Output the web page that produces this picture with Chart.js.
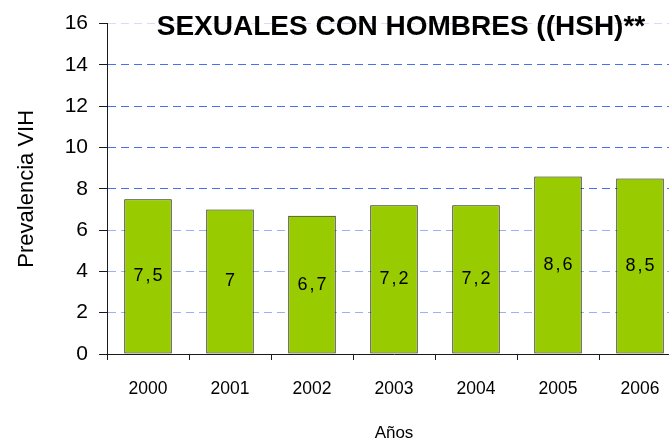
<!DOCTYPE html>
<html>
<head>
<meta charset="utf-8">
<script src="https://cdn.jsdelivr.net/npm/chart.js@4/dist/chart.umd.min.js"></script>
<style>
  html, body { margin: 0; padding: 0; background: #fff; overflow: hidden; width: 669px; height: 441px; }
  #wrap { position: relative; width: 700px; height: 441px; }
</style>
</head>
<body>
<div id="wrap"><canvas id="c" width="700" height="441"></canvas></div>
<script>
const categories = ['2000', '2001', '2002', '2003', '2004', '2005', '2006'];
const prevalence = [7.5, 7, 6.7, 7.2, 7.2, 8.6, 8.5];
const titleText = 'SEXUALES CON HOMBRES ((HSH)**';
const yTitle = 'Prevalencia VIH';
const xTitle = 'Años';

const titlePlugin = {
  id: 'titleDraw',
  afterDraw(chart) {
    const ctx = chart.ctx;
    ctx.save();
    ctx.font = 'bold 28px "Liberation Sans", Arial, sans-serif';
    ctx.fillStyle = '#000';
    ctx.textAlign = 'center';
    ctx.textBaseline = 'alphabetic';
    ctx.fillText(titleText, 401, 35);
    ctx.restore();
  }
};

const labelPlugin = {
  id: 'barLabels',
  afterDatasetsDraw(chart) {
    const ctx = chart.ctx;
    const meta = chart.getDatasetMeta(0);
    ctx.save();
    ctx.font = '18px "Liberation Sans", Arial, sans-serif';
    ctx.fillStyle = '#000';
    ctx.textAlign = 'center';
    ctx.textBaseline = 'middle';
    const sp = 2;
    try { ctx.letterSpacing = sp + 'px'; } catch (e) {}
    meta.data.forEach((el, i) => {
      const p = el.getProps(['x', 'y', 'base'], true);
      const txt = String(prevalence[i]).replace('.', ',');
      ctx.fillText(txt, p.x + sp / 2, (p.y + p.base) / 2);
    });
    ctx.restore();
  }
};

function gridColor(ctx) {
  const v = ctx.tick ? ctx.tick.value : null;
  if (v === 0) return 'rgba(0,0,0,0)';
  if (v === 16) return '#d6ddf9';
  if (v === 2 || v === 4 || v === 6) return '#9cb0f8';
  return '#4a6ef2';
}

new Chart(document.getElementById('c'), {
  type: 'bar',
  data: {
    labels: categories,
    datasets: [{
      data: prevalence,
      backgroundColor: '#99cc00',
      borderColor: '#1a1a1a',
      borderWidth: 1,
      borderSkipped: false,
      categoryPercentage: 1,
      barPercentage: 0.58
    }]
  },
  options: {
    responsive: false,
    animation: false,
    events: [],
    layout: { padding: { left: 0, top: 19, right: 19, bottom: 0 } },
    plugins: { legend: { display: false }, title: { display: false }, tooltip: { enabled: false } },
    scales: {
      x: {
        offset: true,
        grid: { display: true, drawOnChartArea: false, offset: true, tickLength: 6, tickColor: '#1a1a1a', color: '#1a1a1a' },
        border: { display: true, color: '#1a1a1a', width: 1 },
        ticks: { color: '#000', font: { family: '"Liberation Sans", Arial, sans-serif', size: 17.5 }, padding: 19, maxRotation: 0 },
        title: { display: true, text: xTitle, color: '#000', font: { family: '"Liberation Sans", Arial, sans-serif', size: 17 }, padding: { top: 0, bottom: -3 } },
        afterFit(scale) { scale.height = 87; }
      },
      y: {
        min: 0,
        max: 16,
        ticks: { stepSize: 2, color: '#000', font: { family: '"Liberation Sans", Arial, sans-serif', size: 21 }, padding: 11 },
        grid: { color: gridColor, lineWidth: 1, tickLength: 8, tickColor: '#1a1a1a' },
        border: { display: true, color: '#1a1a1a', width: 1, dash: [8, 5] },
        title: { display: true, text: yTitle, color: '#000', font: { family: '"Liberation Sans", Arial, sans-serif', size: 22 }, padding: { top: 14, bottom: 0 } },
        afterFit(scale) { scale.width = 107; }
      }
    }
  },
  plugins: [labelPlugin, titlePlugin]
});
</script>
</body>
</html>
